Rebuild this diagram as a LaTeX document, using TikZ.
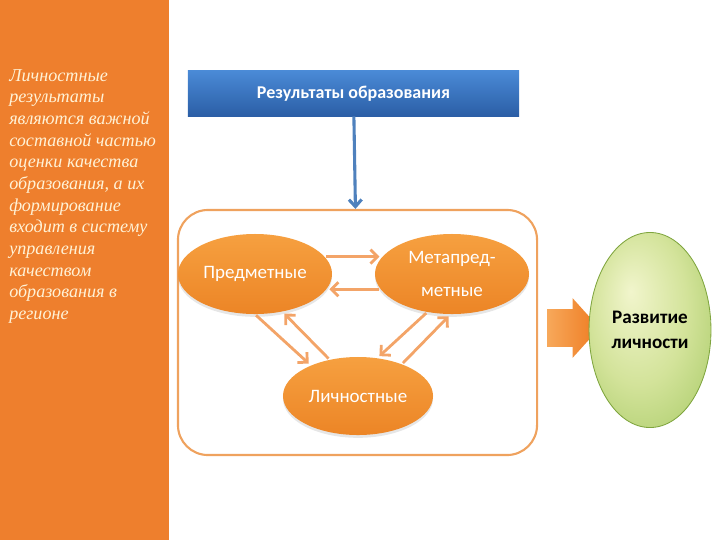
\documentclass[tikz,border=0pt]{standalone}
\usepackage{fontspec}
\setmainfont{Carlito}
\newfontfamily\notefont{Liberation Serif}
\usetikzlibrary{shapes.geometric, shapes.arrows, arrows.meta, positioning, shadows}
\definecolor{panelorange}{HTML}{EE7F2D}
\definecolor{notecream}{HTML}{FFF2D6}
\definecolor{boxtop}{HTML}{4A8AD6}
\definecolor{boxbottom}{HTML}{2B5EA6}
\definecolor{downblue}{HTML}{4F81BD}
\definecolor{frameorange}{HTML}{EFA25E}
\definecolor{ovaltop}{HTML}{F6A040}
\definecolor{ovalbottom}{HTML}{EC8526}
\definecolor{linkorange}{HTML}{F3A468}
\definecolor{devin}{HTML}{F1F5CC}
\definecolor{devmid}{HTML}{D3E39A}
\definecolor{devout}{HTML}{8DBB47}
\definecolor{devedge}{HTML}{7FA53E}
\definecolor{pushleft}{HTML}{F7A85A}
\definecolor{pushright}{HTML}{EE7A20}
\pgfdeclareradialshading{devshade}{\pgfpoint{-8bp}{10bp}}{color(0bp)=(devin); color(20bp)=(devmid); color(50bp)=(devout)}
\tikzstyle{result} = [ellipse, minimum width=3.85cm, minimum height=2cm, inner sep=0pt,
                      text=white, top color=ovaltop, bottom color=ovalbottom, align=center,
                      font=\fontsize{13.5}{23}\selectfont,
                      drop shadow={shadow xshift=0pt, shadow yshift=-2pt, opacity=0.2}]
\tikzstyle{link}   = [line width=2pt, draw=linkorange, -{Straight Barb[length=5pt,width=10pt]},
                      shorten <=1pt, shorten >=2pt]

\begin{document}
\begin{tikzpicture}[x=0.025cm, y=-0.025cm]
  \useasboundingbox (0,0) rectangle (720,540);
  \fill[panelorange] (0,0) rectangle (169,540);

  % left note
  \node (note) [anchor=north west, inner sep=0pt, align=left, text=notecream,
                font=\notefont\itshape\fontsize{12.9}{15.4}\selectfont] at (9,69)
    {Личностные\\ результаты\\ являются важной\\ составной частью\\ оценки качества\\
     образования, а их\\ формирование\\ входит в систему\\ управления\\ качеством\\
     образования в\\ регионе};

  % top box and frame
  \node (res) [rectangle, minimum width=8.275cm, minimum height=1.125cm, top color=boxtop,
               bottom color=boxbottom, text=white, font=\bfseries\fontsize{12.8}{14}\selectfont]
    at (353.5,93.5) {Результаты образования};
  \node (frame) [rectangle, draw=frameorange, line width=1.5pt, rounded corners=0.75cm,
                 minimum width=8.975cm, minimum height=6.125cm] at (357.5,332.5) {};
  \draw[downblue, line width=2.2pt, -{Straight Barb[length=5pt,width=9pt]}] (res) -- (frame);

  % three results
  \node (pred) [result] at (255,274) {Предметные};
  \node (meta) [result] at (452,274) {Метапред-\\метные};
  \node (lich) [result, minimum width=3.75cm, minimum height=1.95cm] at (358,396) {Личностные};

  \draw[link] (pred.14)   -- (meta.166);
  \draw[link] (meta.-168) -- (pred.-12);
  \draw[link] (pred.-90)  -- (lich.147);
  \draw[link] (lich.128)  -- (pred.-54);
  \draw[link] (meta.-123) -- (lich.63);
  \draw[link] (lich.36)   -- (meta.-92);

  % development
  \node (push) [single arrow, minimum height=1.3cm, inner xsep=0pt, inner ysep=0.4625cm,
                single arrow head extend=0.275cm, single arrow tip angle=96,
                left color=pushleft, right color=pushright] at (565,328) {};
  \node (dev) [ellipse, minimum width=2.875cm, minimum height=4.875cm, draw=devedge,
               line width=0.6pt, shading=devshade, align=center,
               font=\bfseries\fontsize{13.6}{17.7}\selectfont] at (650,330) {Развитие\\личности};
\end{tikzpicture}
\end{document}
